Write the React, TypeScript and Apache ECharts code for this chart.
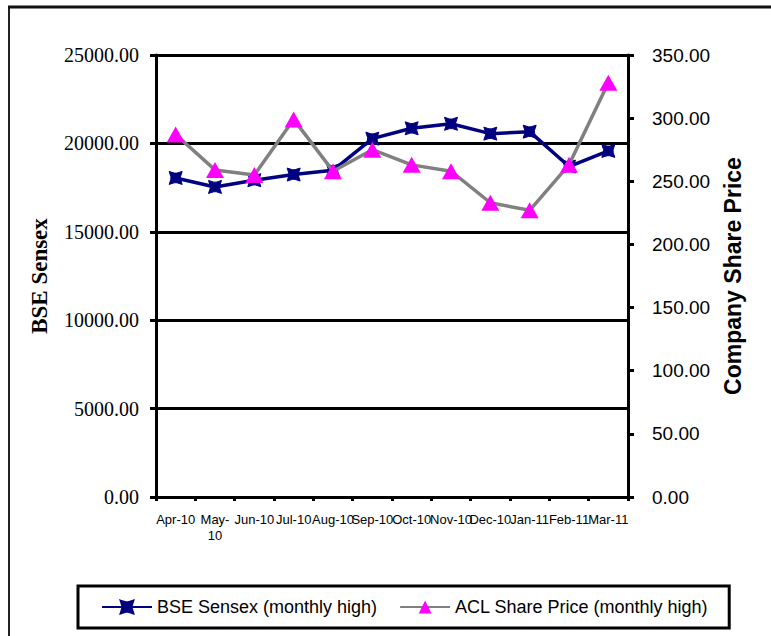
import React, { useEffect, useRef } from "react";
import * as echarts from "echarts";

const months = ["Apr-10", "May-10", "Jun-10", "Jul-10", "Aug-10", "Sep-10", "Oct-10", "Nov-10", "Dec-10", "Jan-11", "Feb-11", "Mar-11"];
const sensexHigh = [18047, 17537, 17919, 18238, 18475, 20267, 20854, 21108, 20552, 20664, 18690, 19575];
const aclHigh = [287, 259, 255, 299, 258, 275, 263, 258, 233, 227, 263, 328];
const seriesNames = ["BSE Sensex (monthly high)", "ACL Share Price (monthly high)"];
const leftAxisName = "BSE Sensex";
const rightAxisName = "Company Share Price";

const xMarker = "path://M0,0 L4,1.3 L6,1.3 L10,0 L8.7,4 L8.7,6 L10,10 L6,8.7 L4,8.7 L0,10 L1.3,6 L1.3,4 Z";

export default function App() {
  const ref = useRef<HTMLDivElement>(null);
  useEffect(() => {
    const chart = echarts.init(ref.current!, null, { renderer: "svg" });
    const sans = "'Liberation Sans', Arial, sans-serif";
    const serif = "'Liberation Serif', 'Times New Roman', serif";
    chart.setOption({
      animation: false,
      backgroundColor: "#ffffff",
      grid: { left: 156, right: 143, top: 55, bottom: 139, containLabel: false },
      graphic: [
        { type: "line", shape: { x1: 9, y1: 7, x2: 9, y2: 640 }, style: { stroke: "#222", lineWidth: 2 } },
        { type: "line", shape: { x1: 8, y1: 7, x2: 775, y2: 7 }, style: { stroke: "#111", lineWidth: 3 } },
      ],
      legend: {
        left: 78,
        top: 586,
        padding: [12, 21, 12, 23],
        itemWidth: 50,
        itemHeight: 16,
        itemGap: 22,
        borderColor: "#000",
        borderWidth: 3,
        textStyle: { fontFamily: sans, fontSize: 18, color: "#000" },
        data: seriesNames,
      },
      xAxis: {
        type: "category",
        data: months,
        boundaryGap: true,
        axisLine: { lineStyle: { color: "#000", width: 3 } },
        axisTick: { show: true, length: 4, lineStyle: { color: "#000", width: 3 } },
        axisLabel: {
          interval: 0,
          hideOverlap: false,
          margin: 14,
          fontFamily: sans,
          fontSize: 13,
          lineHeight: 16,
          color: "#000",
          formatter: (v: string) => (v === "May-10" ? "May-\n10" : v),
        },
      },
      yAxis: [
        {
          type: "value",
          min: 0,
          max: 25000,
          interval: 5000,
          position: "left",
          name: leftAxisName,
          nameLocation: "middle",
          nameGap: 105,
          nameRotate: 90,
          nameTextStyle: { fontFamily: serif, fontWeight: "bold", fontSize: 23, color: "#000" },
          axisLine: { show: true, lineStyle: { color: "#000", width: 3 } },
          axisTick: { show: true, length: 6, lineStyle: { color: "#000", width: 3 } },
          axisLabel: { margin: 17, fontFamily: serif, fontSize: 20, color: "#000", formatter: (v: number) => v.toFixed(2) },
          splitLine: { show: true, lineStyle: { color: "#000", width: 3 } },
        },
        {
          type: "value",
          min: 0,
          max: 350,
          interval: 50,
          position: "right",
          name: rightAxisName,
          nameLocation: "middle",
          nameGap: 91,
          nameRotate: 90,
          nameTextStyle: { fontFamily: sans, fontWeight: "bold", fontSize: 23, color: "#000" },
          axisLine: { show: true, lineStyle: { color: "#000", width: 3 } },
          axisTick: { show: true, length: 6, lineStyle: { color: "#000", width: 3 } },
          axisLabel: { margin: 24, fontFamily: sans, fontSize: 19, color: "#000", formatter: (v: number) => v.toFixed(2) },
          splitLine: { show: false },
        },
      ],
      series: [
        {
          name: seriesNames[0],
          type: "line",
          yAxisIndex: 0,
          data: sensexHigh,
          lineStyle: { color: "#000080", width: 3.5 },
          itemStyle: { color: "#000080", borderColor: "#000080", borderWidth: 1 },
          symbol: xMarker,
          symbolSize: 13,
          z: 2,
        },
        {
          name: seriesNames[1],
          type: "line",
          yAxisIndex: 1,
          data: aclHigh,
          lineStyle: { color: "#808080", width: 3.5 },
          itemStyle: { color: "#ff00ff", borderWidth: 0 },
          symbol: "triangle",
          symbolSize: [18, 16],
          z: 3,
        },
      ],
    });
    return () => chart.dispose();
  }, []);
  return <div ref={ref} style={{ position: "fixed", left: 0, top: 0, width: 771, height: 636 }} />;
}
